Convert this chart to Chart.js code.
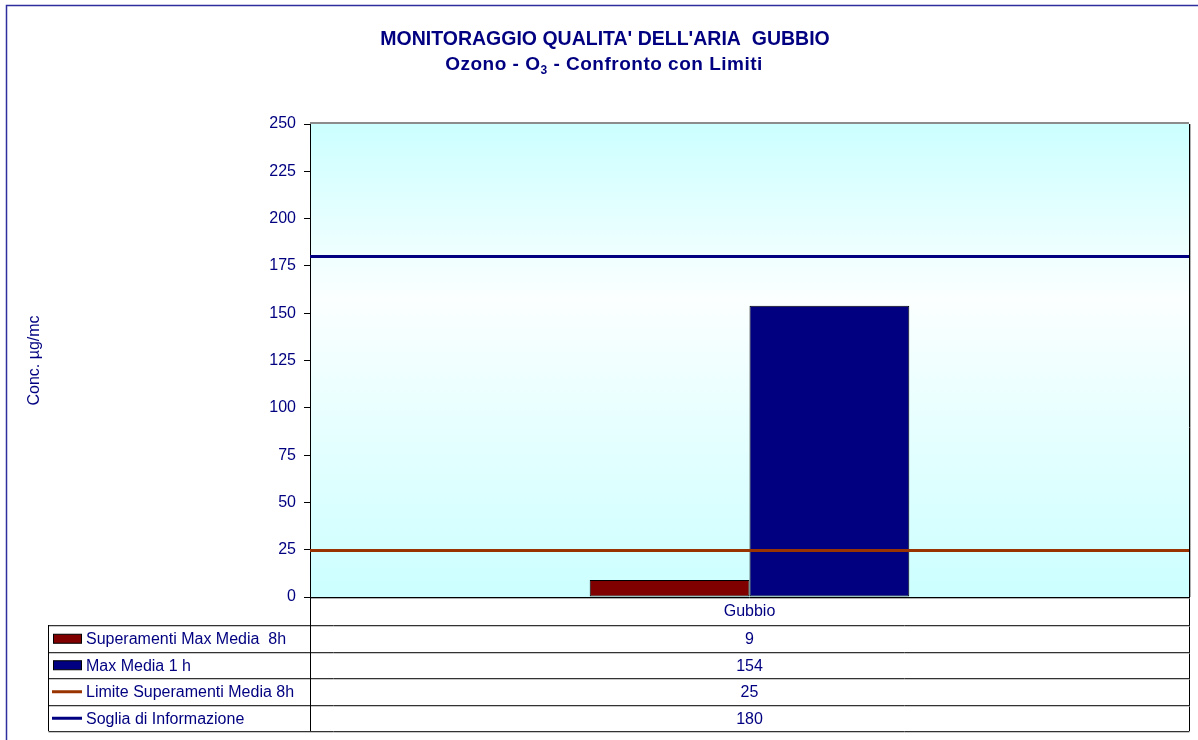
<!DOCTYPE html>
<html>
<head>
<meta charset="utf-8">
<script src="https://cdn.jsdelivr.net/npm/chart.js@4/dist/chart.umd.min.js"></script>
<style>
  html, body { margin: 0; padding: 0; background: #fff; }
  #wrap { width: 1198px; height: 740px; position: relative; }
</style>
</head>
<body>
<div id="wrap"><canvas id="ozoneChart"></canvas></div>
<script>
// dati
const categories = ['Gubbio'];
const seriesNames = ['Superamenti Max Media  8h', 'Max Media 1 h', 'Limite Superamenti Media 8h', 'Soglia di Informazione'];
const superamentiMax8h = [9];
const maxMedia1h = [154];
const limiteMedia8h = [25];
const sogliaInformazione = [180];
const yTicks = [0, 25, 50, 75, 100, 125, 150, 175, 200, 225, 250];

const NAVY = '#000080';
const FONT = '"Liberation Sans", Arial, sans-serif';

// sfondo area grafico e titoli
const backgroundPlugin = {
    id: 'background',
    beforeDraw(chart) {
        const { ctx, chartArea: a } = chart;
        ctx.save();
        // bordo esterno
        ctx.strokeStyle = '#2E2E9E';
        ctx.lineWidth = 1.5;
        ctx.strokeRect(6.5, 5.5, 1400, 1000);
        // gradiente
        const g = ctx.createLinearGradient(0, a.top, 0, a.bottom);
        g.addColorStop(0, '#CCFFFF');
        g.addColorStop(0.37, '#FBFFFF');
        g.addColorStop(1, '#CCFFFF');
        ctx.fillStyle = g;
        ctx.fillRect(a.left, a.top, a.right - a.left, a.bottom - a.top);
        // bordo superiore
        ctx.strokeStyle = '#8C8C8C';
        ctx.lineWidth = 2;
        ctx.beginPath();
        ctx.moveTo(a.left, a.top - 1);
        ctx.lineTo(a.right, a.top - 1);
        ctx.stroke();
        // titolo
        ctx.fillStyle = NAVY;
        ctx.textAlign = 'center';
        ctx.textBaseline = 'alphabetic';
        ctx.font = 'bold 19.5px ' + FONT;
        ctx.fillText("MONITORAGGIO QUALITA' DELL'ARIA  GUBBIO", 605, 45);
        // sottotitolo con pedice
        const p1 = 'Ozono - O', sub = '3', p2 = ' - Confronto con Limiti';
        ctx.letterSpacing = '0.5px';
        ctx.font = 'bold 19px ' + FONT;
        const w1 = ctx.measureText(p1).width, w3 = ctx.measureText(p2).width;
        ctx.font = 'bold 12px ' + FONT;
        const w2 = ctx.measureText(sub).width;
        let x = 604 - (w1 + w2 + w3) / 2;
        ctx.textAlign = 'left';
        ctx.font = 'bold 19px ' + FONT;
        ctx.fillText(p1, x, 70);
        ctx.font = 'bold 12px ' + FONT;
        ctx.fillText(sub, x + w1, 74);
        ctx.font = 'bold 19px ' + FONT;
        ctx.fillText(p2, x + w1 + w2, 70);
        ctx.letterSpacing = '0px';
        ctx.restore();
    }
};

// linee dei limiti orizzontali + tabella dati
const limitsTablePlugin = {
    id: 'limitsTable',
    afterDatasetsDraw(chart) {
        const { ctx, chartArea: a, scales: { y } } = chart;
        ctx.save();
        chart.data.datasets.forEach(ds => {
            if (ds.type !== 'line') return;
            const py = Math.round(y.getPixelForValue(ds.data[0])) + 0.5;
            ctx.strokeStyle = ds.borderColor;
            ctx.lineWidth = 3;
            ctx.beginPath();
            ctx.moveTo(a.left, py);
            ctx.lineTo(a.right, py);
            ctx.stroke();
        });
        ctx.restore();
    },
    afterDraw(chart) {
        const { ctx, chartArea: a, scales: { x } } = chart;
        const left = 48.5, mid = a.left + 0.5, right = a.right + 0.5;
        const catBottom = a.bottom + 28;
        const rowH = 26.5;
        const n = chart.data.datasets.length;
        ctx.save();

        // asse x e bordo destro area
        ctx.strokeStyle = '#000';
        ctx.lineWidth = 1;
        ctx.beginPath();
        ctx.moveTo(a.left, Math.round(a.bottom) + 0.5);
        ctx.lineTo(right, Math.round(a.bottom) + 0.5);
        ctx.moveTo(right, a.top);
        ctx.lineTo(right, catBottom + rowH * n);
        ctx.stroke();
        ctx.strokeStyle = '#B0B0B0';
        ctx.beginPath();
        ctx.moveTo(a.left, Math.round(a.bottom) + 1.5);
        ctx.lineTo(right, Math.round(a.bottom) + 1.5);
        ctx.moveTo(right + 1, a.top);
        ctx.lineTo(right + 1, a.bottom);
        ctx.stroke();

        // linee della tabella
        for (let i = 0; i <= n; i++) {
            const ry = Math.round(catBottom + rowH * i) + 0.5;
            ctx.strokeStyle = '#333';
            ctx.beginPath();
            ctx.moveTo(left, ry);
            ctx.lineTo(right, ry);
            ctx.stroke();
            ctx.strokeStyle = '#C8C8C8';
            ctx.beginPath();
            ctx.moveTo(left, ry + 1);
            ctx.lineTo(right, ry + 1);
            ctx.stroke();
        }
        ctx.strokeStyle = '#000';
        ctx.beginPath();
        ctx.moveTo(left, catBottom);
        ctx.lineTo(left, catBottom + rowH * n);
        ctx.moveTo(mid, a.bottom);
        ctx.lineTo(mid, catBottom + rowH * n);
        ctx.stroke();

        // testo
        ctx.fillStyle = NAVY;
        ctx.font = '16px ' + FONT;
        ctx.textBaseline = 'middle';
        ctx.textAlign = 'center';
        categories.forEach((c, i) => {
            const cx = x.getPixelForValue(i);
            ctx.fillText(c, cx, a.bottom + 15);
        });

        chart.data.datasets.forEach((ds, r) => {
            const cy = catBottom + rowH * r + rowH / 2 + 0.5;
            // chiave legenda
            if (ds.type === 'line') {
                ctx.strokeStyle = ds.borderColor;
                ctx.lineWidth = 3;
                ctx.beginPath();
                ctx.moveTo(52, cy);
                ctx.lineTo(82, cy);
                ctx.stroke();
            } else {
                ctx.fillStyle = ds.backgroundColor;
                ctx.fillRect(53, cy - 4.5, 29, 9);
                ctx.strokeStyle = '#000';
                ctx.lineWidth = 1;
                ctx.strokeRect(53.5, cy - 4.5, 28, 9);
            }
            ctx.fillStyle = NAVY;
            ctx.textAlign = 'left';
            ctx.fillText(ds.label, 86, cy + 1);
            ctx.textAlign = 'center';
            ds.data.forEach((v, i) => {
                ctx.fillText(String(v), x.getPixelForValue(i), cy + 1);
            });
        });
        ctx.restore();
    }
};

const ctx = document.getElementById('ozoneChart').getContext('2d');
new Chart(ctx, {
    type: 'bar',
    data: {
        labels: categories,
        datasets: [
            {
                label: seriesNames[0],
                data: superamentiMax8h,
                backgroundColor: '#800000',
                borderColor: '#000000',
                borderWidth: 1,
                borderSkipped: false
            },
            {
                label: seriesNames[1],
                data: maxMedia1h,
                backgroundColor: NAVY,
                borderColor: '#000000',
                borderWidth: 1,
                borderSkipped: false
            },
            {
                type: 'line',
                label: seriesNames[2],
                data: limiteMedia8h,
                borderColor: '#993300',
                backgroundColor: '#993300',
                pointRadius: 0,
                showLine: false
            },
            {
                type: 'line',
                label: seriesNames[3],
                data: sogliaInformazione,
                borderColor: NAVY,
                backgroundColor: NAVY,
                pointRadius: 0,
                showLine: false
            }
        ]
    },
    options: {
        responsive: true,
        maintainAspectRatio: false,
        animation: false,
        layout: {
            padding: { left: 21, right: 9, top: 124, bottom: 143 }
        },
        datasets: {
            bar: { categoryPercentage: 0.3636, barPercentage: 1 }
        },
        plugins: {
            legend: { display: false },
            title: { display: false },
            tooltip: { enabled: false }
        },
        scales: {
            x: {
                display: false
            },
            y: {
                min: yTicks[0],
                max: yTicks[yTicks.length - 1],
                afterFit(scale) { scale.width = 289; },
                afterBuildTicks(scale) { scale.ticks = yTicks.map(v => ({ value: v })); },
                ticks: {
                    color: NAVY,
                    padding: 8,
                    font: { family: FONT, size: 16 }
                },
                grid: {
                    drawOnChartArea: false,
                    tickLength: 6,
                    color: '#000'
                },
                border: { color: '#000', width: 1 },
                title: {
                    display: true,
                    text: 'Conc. µg/mc',
                    color: NAVY,
                    font: { family: FONT, size: 16 }
                }
            }
        }
    },
    plugins: [backgroundPlugin, limitsTablePlugin]
});
</script>
</body>
</html>
